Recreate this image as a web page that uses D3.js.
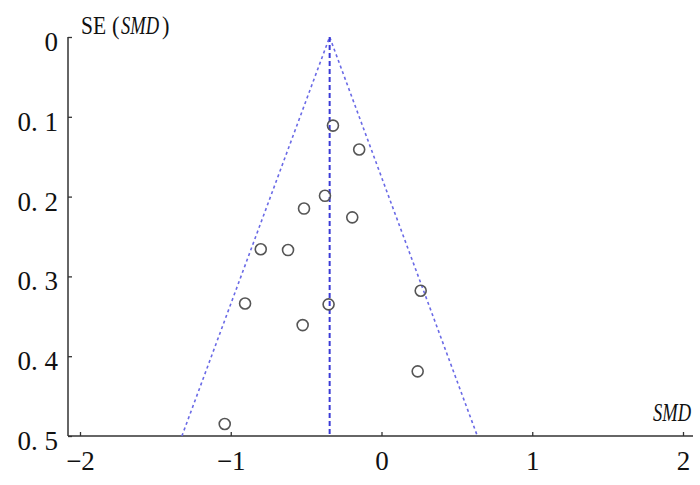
<!DOCTYPE html>
<html lang="en">
<head>
<meta charset="UTF-8" />
<title>Funnel plot</title>
<script src="https://d3js.org/d3.v7.min.js"></script>
<style>
  body { margin: 0; background: #fff; }
  svg { display: block; }
</style>
</head>
<body>
<svg id="chart" width="700" height="485"></svg>
<script>
// study estimates
const smd = [-0.322, -0.148, -0.375, -0.514, -0.194, -0.801, -0.620, 0.260, -0.905, -0.351, -0.523, 0.240, -1.040];
const se  = [0.111, 0.141, 0.199, 0.215, 0.226, 0.266, 0.267, 0.318, 0.334, 0.335, 0.361, 0.419, 0.485];
const pooled = -0.344;
const xTicks = [-2, -1, 0, 1, 2];
const yTicks = [0, 0.1, 0.2, 0.3, 0.4, 0.5];

const FONT = "'Liberation Serif', 'Times New Roman', serif";
const svg = d3.select("#chart");
const x = d3.scaleLinear().domain([-2, 2]).range([80, 683]);
const y = d3.scaleLinear().domain([0, 0.5]).range([37, 436]);
const axisX0 = 68, axisY0 = 436;

// axes
const gx = svg.append("g").attr("transform", `translate(0,${axisY0})`)
  .call(d3.axisBottom(x).tickValues(xTicks).tickSizeInner(-4).tickSizeOuter(0).tickPadding(15)
    .tickFormat(d => d < 0 ? "\u2212" + Math.abs(d) : d));
gx.select(".domain").remove();
gx.selectAll(".tick line").attr("stroke", "#333").attr("stroke-width", 1.3);
gx.selectAll(".tick text").attr("font-family", FONT).attr("font-size", 27).attr("fill", "#111");

const gy = svg.append("g").attr("transform", `translate(${axisX0},0)`)
  .call(d3.axisLeft(y).tickValues(yTicks).tickSizeInner(-4).tickSizeOuter(0).tickPadding(10)
    .tickFormat(d => d === 0 ? "0" : d3.format(".1f")(d).replace(".", ". ")));
gy.select(".domain").remove();
gy.selectAll(".tick line").attr("stroke", "#333").attr("stroke-width", 1.3);
gy.selectAll(".tick text").attr("font-family", FONT).attr("font-size", 27).attr("fill", "#111")
  .attr("dy", "0.5em");

svg.append("line").attr("x1", axisX0).attr("x2", 693).attr("y1", axisY0).attr("y2", axisY0)
  .attr("stroke", "#333").attr("stroke-width", 1.5);
svg.append("line").attr("x1", axisX0).attr("x2", axisX0).attr("y1", y(0)).attr("y2", axisY0)
  .attr("stroke", "#333").attr("stroke-width", 1.5);

// funnel
const seMax = 0.5;
svg.append("path")
  .attr("d", d3.line()([[x(pooled - 1.96 * seMax), y(seMax)], [x(pooled), y(0)], [x(pooled + 1.96 * seMax), y(seMax)]]))
  .attr("fill", "none").attr("stroke", "#6a6ae6").attr("stroke-width", 1.6).attr("stroke-dasharray", "3,3");
svg.append("line").attr("x1", x(pooled)).attr("x2", x(pooled)).attr("y1", y(0)).attr("y2", axisY0)
  .attr("stroke", "#3a3ad6").attr("stroke-width", 2).attr("stroke-dasharray", "5,3");

// points
svg.append("g").selectAll("circle")
  .data(smd.map((d, i) => [d, se[i]]))
  .join("circle")
  .attr("cx", d => x(d[0])).attr("cy", d => y(d[1])).attr("r", 5.5)
  .attr("fill", "none").attr("stroke", "#555").attr("stroke-width", 1.6);

// axis titles (horizontally condensed like the original font)
function label(txt, x0, y0, sx, italic) {
  svg.append("text").attr("transform", `translate(${x0},${y0}) scale(${sx},1)`)
    .attr("font-family", FONT).attr("font-size", 25).attr("fill", "#111")
    .attr("font-style", italic ? "italic" : "normal")
    .text(txt);
}
label("SE", 81, 34, 0.86, false);
label("(", 112, 34, 0.9, false);
label("SMD", 121, 34, 0.74, true);
label(")", 162, 34, 0.9, false);
label("SMD", 653, 421, 0.74, true);
</script>
</body>
</html>
